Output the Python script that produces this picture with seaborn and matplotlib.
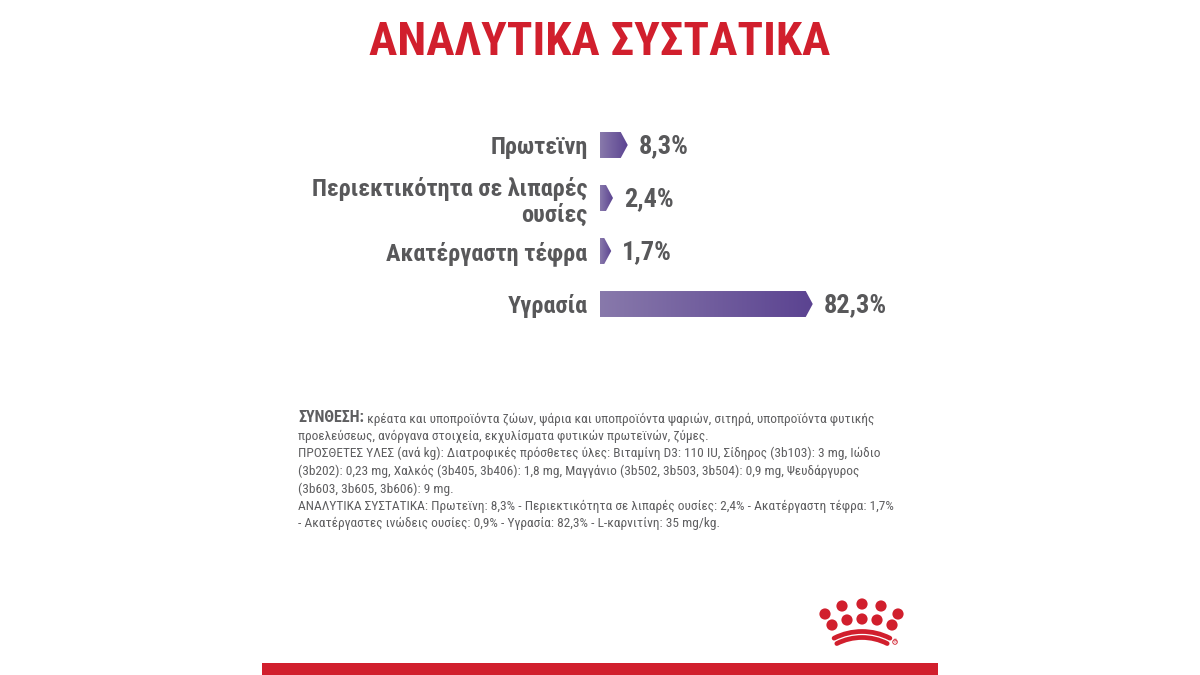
import numpy as np
import pandas as pd
import matplotlib
matplotlib.use("Agg")
import matplotlib.pyplot as plt
import seaborn as sns
from matplotlib.patches import Polygon, Circle, Arc, Rectangle
from matplotlib.colors import LinearSegmentedColormap

# ---------------- data ----------------
title = "ΑΝΑΛΥΤΙΚΑ ΣΥΣΤΑΤΙΚΑ"
categories = ["Πρωτεϊνη", "Περιεκτικότητα σε λιπαρές\nουσίες", "Ακατέργαστη τέφρα", "Υγρασία"]
values = [8.3, 2.4, 1.7, 82.3]
composition_head = "ΣΥΝΘΕΣΗ:"
composition_lines = [
    " κρέατα και υποπροϊόντα ζώων, ψάρια και υποπροϊόντα ψαριών, σιτηρά, υποπροϊόντα φυτικής",
    "προελεύσεως, ανόργανα στοιχεία, εκχυλίσματα φυτικών πρωτεϊνών, ζύμες.",
    "ΠΡΟΣΘΕΤΕΣ ΥΛΕΣ (ανά kg): Διατροφικές πρόσθετες ύλες: Βιταμίνη D3: 110 IU, Σίδηρος (3b103): 3 mg, Ιώδιο",
    "(3b202): 0,23 mg, Χαλκός (3b405, 3b406): 1,8 mg, Μαγγάνιο (3b502, 3b503, 3b504): 0,9 mg, Ψευδάργυρος",
    "(3b603, 3b605, 3b606): 9 mg.",
    "ΑΝΑΛΥΤΙΚΑ ΣΥΣΤΑΤΙΚΑ: Πρωτεϊνη: 8,3% - Περιεκτικότητα σε λιπαρές ουσίες: 2,4% - Ακατέργαστη τέφρα: 1,7%",
    "- Ακατέργαστες ινώδεις ουσίες: 0,9% - Υγρασία: 82,3% - L-καρνιτίνη: 35 mg/kg.",
]

RED = "#d11f2d"
GRAY = "#58585a"
TEXT_GRAY = "#5e5e60"
PURPLE_LIGHT = "#8879ab"
PURPLE_DARK = "#5b4391"

sns.set_theme(style="white")
FAMILY = ["Roboto Condensed", "DejaVu Sans"]
plt.rcParams["font.family"] = FAMILY

W, H = 1200, 675
fig = plt.figure(figsize=(12, 6.75), dpi=100)
fig.patch.set_facecolor("white")

# overlay axes in pixel coordinates (decoration)
ov = fig.add_axes([0, 0, 1, 1], zorder=0)
ov.set_xlim(0, W)
ov.set_ylim(0, H)
ov.axis("off")
ov.patch.set_visible(False)

# ---------------- bar chart ----------------
px_per_unit = 2.5
row_px = 53
ax_left_px, ax_top_px = 600, 118.5
ax_w_px, ax_h_px = 100 * px_per_unit, 4 * row_px
ax = fig.add_axes([ax_left_px / W, 1 - (ax_top_px + ax_h_px) / H, ax_w_px / W, ax_h_px / H], zorder=2)
ax.patch.set_visible(False)

df = pd.DataFrame({"category": categories, "value": values})
sns.barplot(data=df, x="value", y="category", orient="h", ax=ax,
            color=PURPLE_DARK, width=0.49, saturation=1)

cmap = LinearSegmentedColormap.from_list("rc", [PURPLE_LIGHT, PURPLE_DARK])
grad = np.linspace(0, 1, 256).reshape(1, -1)
tip = 7 / px_per_unit
for p, v in zip(ax.patches, values):
    x0, y0 = p.get_x(), p.get_y()
    w, h = p.get_width(), p.get_height()
    p.set_visible(False)
    yc = y0 + h / 2
    poly = Polygon([(x0, y0), (x0 + w, y0), (x0 + w + tip, yc), (x0 + w, y0 + h), (x0, y0 + h)],
                   closed=True, facecolor="none", edgecolor="none")
    ax.add_patch(poly)
    im = ax.imshow(grad, cmap=cmap, aspect="auto", extent=(x0, x0 + w + tip, y0 + h, y0),
                   interpolation="bilinear", zorder=2)
    im.set_clip_path(poly)
    label = f"{v:.1f}".replace(".", ",") + "%"
    ax.text(x0 + w + tip + 11 / px_per_unit, yc + 0.02, label, ha="left", va="center",
            fontsize=19, fontweight="bold", color=GRAY)

ax.set_xlim(0, 100)
ax.set_ylim(3.5, -0.5)
ax.set_xlabel("")
ax.set_ylabel("")
ax.set_xticks([])
for s in ax.spines.values():
    s.set_visible(False)
ax.tick_params(axis="y", left=False, length=0, pad=9, labelsize=17.5, labelcolor=GRAY)
for t in ax.get_yticklabels():
    t.set_fontweight("bold")
    t.set_linespacing(1.15)

# ---------------- title ----------------
fig.text(0.5, 1 - 42 / H, title, ha="center", va="center", fontsize=34,
         fontweight="bold", color=RED)

# ---------------- composition text ----------------
x_txt = 298
base0 = 422.5
step = 17.5
fs = 9.6
head = ov.text(x_txt, H - base0, composition_head, ha="left", va="baseline",
               fontsize=11.5, fontweight="bold", color=TEXT_GRAY)
ov.annotate(composition_lines[0], xy=(1, 0), xycoords=head, ha="left", va="bottom",
            fontsize=fs, color=TEXT_GRAY)
for i, line in enumerate(composition_lines[1:], start=1):
    ov.text(x_txt, H - (base0 + i * step), line, ha="left", va="baseline",
            fontsize=fs, color=TEXT_GRAY)

# ---------------- logo ----------------
top_row = [(825, 614), (842, 606), (862, 604), (881, 606), (898, 614)]
second_row = [(832, 625), (847, 620), (862, 619), (877, 620), (892, 625)]
for (cx, cy) in top_row + second_row:
    ov.add_patch(Circle((cx, H - cy), 5.6, color=RED, lw=0))
for r in (61.5, 55.5):
    ov.add_patch(Arc((862, H - 693), 2 * r, 2 * r, theta1=63, theta2=117,
                     color=RED, lw=3.4, capstyle="round"))
ov.add_patch(Circle((895, H - 642), 2.3, facecolor="white", edgecolor=RED, lw=0.6))
ov.text(895, H - 642, "®", ha="center", va="center", fontsize=3.5, color=RED,
        family="DejaVu Sans")

# ---------------- bottom red band ----------------
ov.add_patch(Rectangle((262, 0), 676, 12, color=RED, lw=0))

fig.savefig("out.png", dpi=100, facecolor="white")
